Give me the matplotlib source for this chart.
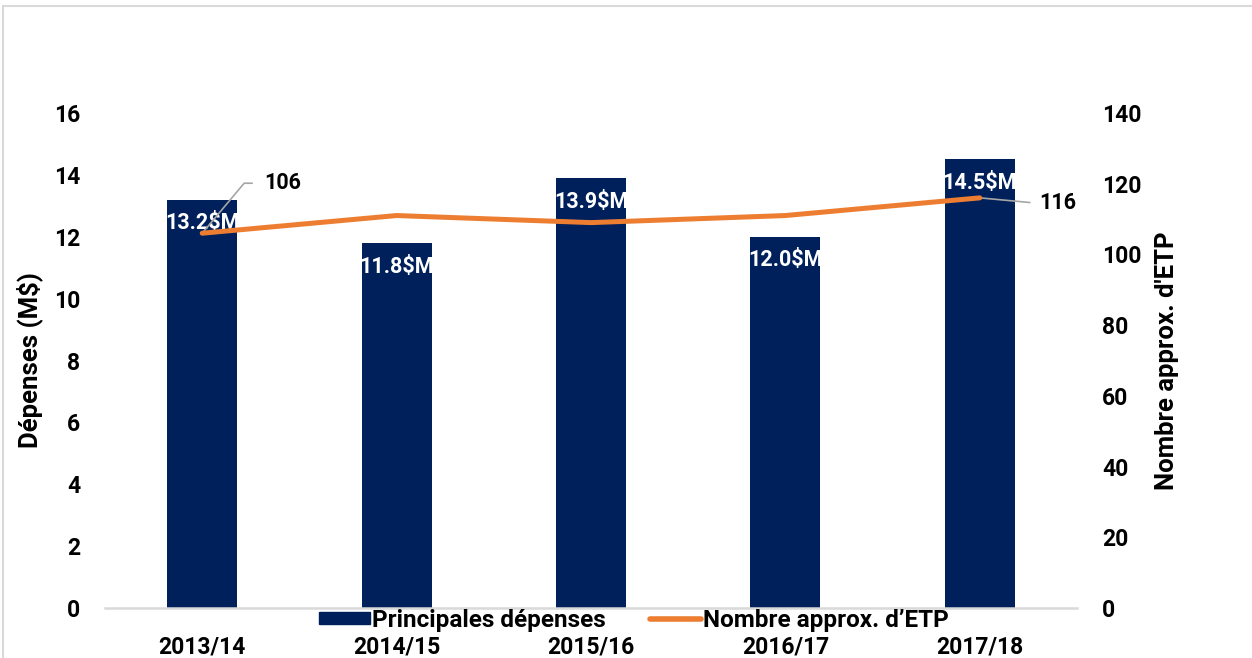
import matplotlib
matplotlib.use("Agg")
import matplotlib.pyplot as plt
from matplotlib.patches import Rectangle
from matplotlib.lines import Line2D

plt.rcParams['font.family'] = ['Roboto', 'DejaVu Sans']
plt.rcParams['font.weight'] = 'bold'

years = ["2013/14", "2014/15", "2015/16", "2016/17", "2017/18"]
spending = [13.2, 11.8, 13.9, 12.0, 14.5]
fte = [106, 111, 109, 111, 116]
bar_labels = ["13.2$M", "11.8$M", "13.9$M", "12.0$M", "14.5$M"]
left_ticks = [0, 2, 4, 6, 8, 10, 12, 14, 16]
right_ticks = [0, 20, 40, 60, 80, 100, 120, 140]

BAR = '#00205B'
ORANGE = '#ED7D31'
TICK_FS = 16.5
LABEL_FS = 18.5
LEG_FS = 17.5
ANN_FS = 15.5

fig = plt.figure(figsize=(12.52, 6.58), dpi=100)
fig.patches.append(Rectangle((3/1252, -0.01), 1.05, 1 - 6/658 + 0.01,
                             transform=fig.transFigure, fill=False,
                             edgecolor='#d9d9d9', linewidth=1.5, zorder=0))

ax = fig.add_axes([105/1252, 1 - 608/658, (1077 - 105)/1252, (608 - 113)/658])
x = list(range(len(years)))
ax.bar(x, spending, width=0.36, color=BAR, zorder=2)
ax.set_xlim(-0.5, len(years) - 0.5)
ax.set_ylim(0, 16)
ax.set_yticks(left_ticks)
ax.set_xticks(x)
ax.set_xticklabels(years)
for s in ['top', 'left', 'right']:
    ax.spines[s].set_visible(False)
ax.spines['bottom'].set_color('#d9d9d9')
ax.spines['bottom'].set_linewidth(1.8)
ax.tick_params(axis='y', length=0, pad=18, labelsize=TICK_FS)
ax.tick_params(axis='x', length=0, pad=20, labelsize=TICK_FS)
for lbl in ax.get_xticklabels() + ax.get_yticklabels():
    lbl.set_fontweight('bold')
ax.set_ylabel("Dépenses (M$)", fontsize=LABEL_FS, fontweight='bold', labelpad=8)

for xi, v, lab in zip(x, spending, bar_labels):
    ax.annotate(lab, (xi, v), xytext=(0, -17), textcoords='offset points',
                ha='center', va='center', color='white', fontsize=ANN_FS,
                fontweight='bold', zorder=3)

ax2 = ax.twinx()
ax2.set_ylim(0, 140)
ax2.set_yticks(right_ticks)
ax2.plot(x, fte, color=ORANGE, linewidth=3.6, solid_capstyle='round', zorder=4)
for s in ['top', 'left', 'right', 'bottom']:
    ax2.spines[s].set_visible(False)
ax2.tick_params(axis='y', length=0, pad=18, labelsize=TICK_FS)
for lbl in ax2.get_yticklabels():
    lbl.set_fontweight('bold')
ax2.set_ylabel("Nombre approx. d'ETP", fontsize=LABEL_FS, fontweight='bold', labelpad=10)

ax2.annotate(str(fte[0]), (x[0], fte[0]), xytext=(45, 36), textcoords='offset points',
             ha='left', va='center', fontsize=ANN_FS, fontweight='bold',
             arrowprops=dict(arrowstyle='-', color='#a6a6a6', lw=1.2,
                             connectionstyle='angle,angleA=0,angleB=50,rad=0',
                             relpos=(0, 0.5), shrinkA=7, shrinkB=0))
ax2.annotate(str(fte[-1]), (x[-1], fte[-1]), xytext=(43, -4), textcoords='offset points',
             ha='left', va='center', fontsize=ANN_FS, fontweight='bold',
             arrowprops=dict(arrowstyle='-', color='#a6a6a6', lw=1.2,
                             relpos=(0, 0.5), shrinkA=5, shrinkB=0))

handles = [Rectangle((0, 0), 1, 1, color=BAR),
           Line2D([0], [0], color=ORANGE, linewidth=4, solid_capstyle='round')]
leg = fig.legend(handles, ["Principales dépenses", "Nombre approx. d\u2019ETP"],
                 loc='center', bbox_to_anchor=(634/1252, 1 - 620/658), ncol=2,
                 frameon=False, fontsize=LEG_FS, handlelength=2.1, handleheight=0.42,
                 handletextpad=0.1, columnspacing=1.8, borderpad=0)
for t in leg.get_texts():
    t.set_fontweight('bold')

fig.savefig("out.png", dpi=100)
